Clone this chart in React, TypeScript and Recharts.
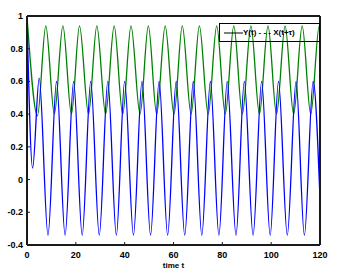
import { LineChart, Line, XAxis, YAxis } from "recharts";

// Y(t), blue: turning points
const yTimes = [
  0, 2.3, 5.0, 8.6, 12.1, 15.6, 19.1, 22.6, 26.1, 29.6, 33.1, 36.6, 40.0, 43.6,
  47.1, 50.6, 54.1, 57.6, 61.1, 64.6, 68.1, 71.6, 75.1, 78.6, 82.0, 85.6, 89.0,
  92.6, 96.1, 99.6, 103.0, 106.6, 110.2, 113.6, 117.2, 120,
];
const yValues = [
  1.0, 0.07, 0.62, -0.34, 0.6, -0.34, 0.6, -0.34, 0.6, -0.34, 0.6, -0.34, 0.6,
  -0.34, 0.6, -0.34, 0.6, -0.34, 0.6, -0.34, 0.6, -0.34, 0.6, -0.34, 0.6, -0.34,
  0.6, -0.34, 0.6, -0.34, 0.6, -0.34, 0.6, -0.34, 0.6, -0.12,
];

// X(t+tau), green
const xTimes = [
  0, 4.3, 7.7, 11.2, 14.7, 18.2, 21.5, 25.2, 28.6, 32.2, 35.7, 39.2, 42.6, 46.3,
  49.7, 53.1, 56.6, 60.2, 63.6, 67.2, 70.6, 74.2, 77.7, 81.2, 84.7, 88.2, 91.7,
  95.2, 98.7, 102.2, 105.7, 109.2, 112.7, 116.2, 119.7, 120,
];
const xValues = [
  1.0, 0.39, 0.94, 0.4, 0.94, 0.4, 0.94, 0.4, 0.94, 0.4, 0.94, 0.4, 0.94, 0.4,
  0.94, 0.4, 0.94, 0.4, 0.94, 0.4, 0.94, 0.4, 0.94, 0.4, 0.94, 0.4, 0.94, 0.4,
  0.94, 0.4, 0.94, 0.4, 0.94, 0.4, 0.94, 0.94,
];

const xTicks = [0, 20, 40, 60, 80, 100, 120];
const yTicks = [-0.4, -0.2, 0, 0.2, 0.4, 0.6, 0.8, 1];

const yData = yTimes.map((t, i) => ({ t, v: yValues[i] }));
const xData = xTimes.map((t, i) => ({ t, v: xValues[i] }));

const FONT = "'Liberation Sans', Arial, sans-serif";
const FRAME = "#1a1a1a";

function BottomTick({ x, y, payload }: any) {
  return (
    <g>
      <line x1={x} x2={x} y1={y} y2={y - 3} stroke={FRAME} />
      <text x={x} y={y + 13} textAnchor="middle" fontSize={9} fontWeight="bold" fontFamily={FONT} fill="#000">
        {payload.value}
      </text>
    </g>
  );
}

function TopTick({ x, y }: any) {
  return <line x1={x} x2={x} y1={y} y2={y + 3} stroke={FRAME} />;
}

function LeftTick({ x, y, payload }: any) {
  const v = Math.round(payload.value * 10) / 10;
  return (
    <g>
      <line x1={x} x2={x + 3} y1={y} y2={y} stroke={FRAME} />
      <text x={x - 4} y={y + 3} textAnchor="end" fontSize={9} fontWeight="bold" fontFamily={FONT} fill="#000">
        {v}
      </text>
    </g>
  );
}

function RightTick({ x, y }: any) {
  return <line x1={x} x2={x - 3} y1={y} y2={y} stroke={FRAME} />;
}

function LegendBox() {
  return (
    <div
      style={{
        position: "absolute",
        left: 219,
        top: 23,
        width: 101,
        height: 19,
        border: "1px solid #000",
        boxSizing: "border-box",
        display: "flex",
        alignItems: "center",
        fontFamily: FONT,
        fontSize: 8,
        fontWeight: "bold",
        whiteSpace: "nowrap",
      }}
    >
      <svg width={19} height={8} style={{ marginLeft: 4 }}>
        <line x1={0} x2={19} y1={4} y2={4} stroke="#000" strokeWidth={1} />
      </svg>
      <span>Y(t) - - - X(t+τ)</span>
    </div>
  );
}

export default function App() {
  return (
    <div style={{ position: "absolute", left: 0, top: 0, width: 338, height: 273, background: "#fff" }}>
      <LineChart width={338} height={273} margin={{ top: 15, right: 17, left: 0, bottom: 0 }}>
        <XAxis
          dataKey="t"
          type="number"
          domain={[0, 120]}
          ticks={xTicks}
          interval={0}
          height={28}
          tickSize={0}
          tickMargin={0}
          tick={<BottomTick />}
          axisLine={{ stroke: FRAME, strokeWidth: 2 }}
          allowDataOverflow
          label={{ value: "time t", position: "insideBottom", offset: 5, fontSize: 8, fontWeight: "bold", fontFamily: FONT, fill: "#000" }}
        />
        <XAxis
          xAxisId="top"
          orientation="top"
          dataKey="t"
          type="number"
          domain={[0, 120]}
          ticks={xTicks}
          interval={0}
          height={1}
          tickSize={0}
          tickMargin={0}
          tick={<TopTick />}
          axisLine={{ stroke: FRAME, strokeWidth: 2 }}
        />
        <YAxis
          type="number"
          domain={[-0.4, 1]}
          ticks={yTicks}
          interval={0}
          width={27}
          tickSize={0}
          tickMargin={0}
          tick={<LeftTick />}
          axisLine={{ stroke: FRAME, strokeWidth: 2 }}
          allowDataOverflow
        />
        <YAxis
          yAxisId="right"
          orientation="right"
          type="number"
          domain={[-0.4, 1]}
          ticks={yTicks}
          interval={0}
          width={1}
          tickSize={0}
          tickMargin={0}
          tick={<RightTick />}
          axisLine={{ stroke: FRAME, strokeWidth: 2 }}
        />
        <Line
          data={xData}
          dataKey="v"
          name="X"
          type="monotone"
          stroke="#008000"
          strokeWidth={1.3}
          dot={false}
          isAnimationActive={false}
        />
        <Line
          data={yData}
          dataKey="v"
          name="Y"
          type="monotone"
          stroke="#0000ff"
          strokeWidth={1.3}
          dot={false}
          isAnimationActive={false}
        />
      </LineChart>
      <LegendBox />
    </div>
  );
}
